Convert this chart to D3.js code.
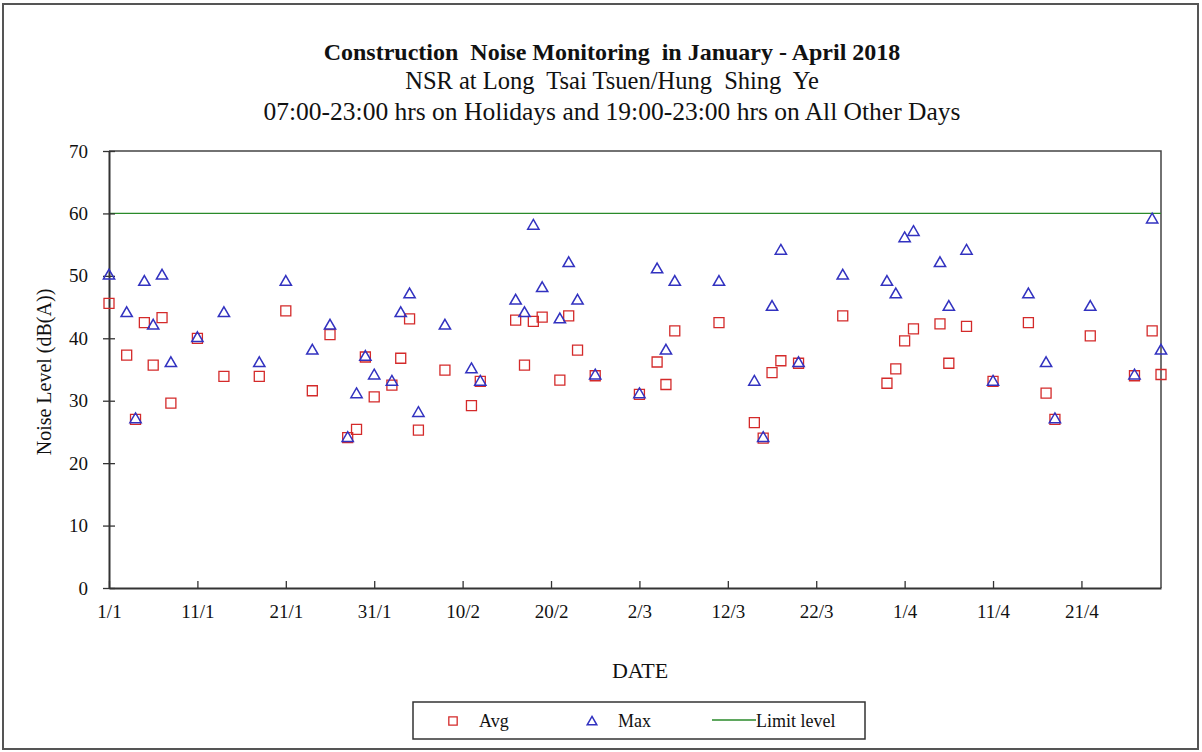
<!DOCTYPE html>
<html>
<head>
<meta charset="utf-8">
<script src="https://cdn.jsdelivr.net/npm/d3@7"></script>
<style>
  body { margin: 0; background: #fff; }
  text { font-family: "Liberation Serif", "Times New Roman", serif; fill: #111; }
</style>
</head>
<body>
<div id="chart"></div>
<script>
// Monitoring dates (d/m, 2018)
const dates = ["1/1","3/1","4/1","5/1","6/1","7/1","8/1","11/1","14/1","18/1","21/1","24/1","26/1","28/1","29/1","30/1","31/1",
  "2/2","3/2","4/2","5/2","8/2","11/2","12/2","16/2","17/2","18/2","19/2","21/2","22/2","23/2","25/2",
  "2/3","4/3","5/3","6/3","11/3","15/3","16/3","17/3","18/3","20/3","25/3","30/3","31/3",
  "1/4","2/4","5/4","6/4","8/4","11/4","15/4","17/4","18/4","22/4","27/4","29/4","30/4"];

const avgValues = [45.6,37.3,27.0,42.5,35.7,43.3,29.6,40.0,33.9,33.9,44.4,31.6,40.6,24.1,25.4,37.0,30.6,
  32.5,36.8,43.1,25.3,34.9,29.2,33.1,42.9,35.7,42.7,43.4,33.3,43.6,38.1,34.0,
  31.0,36.2,32.6,41.2,42.5,26.5,24.0,34.5,36.4,36.0,43.6,32.8,35.1,
  39.6,41.5,42.3,36.0,41.9,33.1,42.5,31.2,27.0,40.4,34.0,41.2,34.2];

const maxValues = [50,44,27,49,42,50,36,40,44,36,49,38,42,24,31,37,34,
  33,44,47,28,42,35,33,46,44,58,48,43,52,46,34,
  31,51,38,49,49,33,24,45,54,36,50,49,47,
  56,57,52,45,54,33,47,36,27,45,34,59,38];

const limitLevel = 60;
const yTicks = [0, 10, 20, 30, 40, 50, 60, 70];

const parseDate = d3.timeParse("%d/%m/%Y");
const data = dates.map((d, i) => ({ date: parseDate(d + "/2018"), avg: avgValues[i], max: maxValues[i] }));

const width = 1202, height = 752;
const margin = { top: 151, right: 41, bottom: 164, left: 109 };
const innerW = width - margin.left - margin.right;
const innerH = height - margin.top - margin.bottom;

const svg = d3.select("#chart").append("svg")
  .attr("width", width)
  .attr("height", height);

// outer frame
svg.append("rect")
  .attr("x", 3).attr("y", 4)
  .attr("width", 1195).attr("height", 745)
  .attr("fill", "none")
  .attr("stroke", "#555")
  .attr("stroke-width", 2);

const g = svg.append("g")
  .attr("transform", `translate(${margin.left},${margin.top})`);

const start = parseDate("1/1/2018");
const x = d3.scaleTime()
  .domain([start, parseDate("30/4/2018")])
  .range([0, innerW]);

const y = d3.scaleLinear()
  .domain([0, 70])
  .range([innerH, 0]);

// plot border (top and right)
g.append("path")
  .attr("d", `M0,0H${innerW}V${innerH}`)
  .attr("fill", "none")
  .attr("stroke", "#444")
  .attr("stroke-width", 1.5);

// limit line
g.append("line")
  .attr("x1", 0).attr("x2", innerW)
  .attr("y1", y(limitLevel)).attr("y2", y(limitLevel))
  .attr("stroke", "#2a8a2a")
  .attr("stroke-width", 1.3);

// x axis, ticks every 10 days pointing inward
const xTicks = d3.range(0, 12).map(i => d3.timeDay.offset(start, i * 10));
const xAxis = g.append("g")
  .attr("transform", `translate(0,${innerH})`)
  .call(d3.axisBottom(x).tickValues(xTicks).tickFormat(d3.timeFormat("%-d/%-m")).tickSize(-7).tickPadding(17).tickSizeOuter(0));
xAxis.select(".domain").attr("stroke", "#333").attr("stroke-width", 2);
xAxis.selectAll(".tick line").attr("stroke", "#333").attr("stroke-width", 1.3);
xAxis.selectAll("text").style("font-size", "19px").attr("fill", "#111");

// y axis, cross ticks
const yAxis = g.append("g")
  .call(d3.axisLeft(y).tickValues(yTicks).tickSize(6).tickPadding(6).tickSizeOuter(0));
yAxis.select(".domain").attr("stroke", "#333").attr("stroke-width", 2);
yAxis.selectAll(".tick line").attr("x2", 6).attr("x1", -6).attr("stroke", "#333").attr("stroke-width", 1.3);
yAxis.selectAll("text").style("font-size", "19px").attr("fill", "#111").attr("x", -21);

const square = d3.symbol().type(d3.symbolSquare).size(100);
const triangle = d3.symbol().type(d3.symbolTriangle).size(55);

// Avg
g.selectAll(".avg")
  .data(data)
  .join("path")
  .attr("class", "avg")
  .attr("d", square)
  .attr("transform", d => `translate(${x(d.date)},${y(d.avg)})`)
  .attr("fill", "none")
  .attr("stroke", "#d42a2a")
  .attr("stroke-width", 1.3);

// Max
g.selectAll(".max")
  .data(data)
  .join("path")
  .attr("class", "max")
  .attr("d", triangle)
  .attr("transform", d => `translate(${x(d.date)},${y(d.max)})`)
  .attr("fill", "none")
  .attr("stroke", "#3232c0")
  .attr("stroke-width", 1.5);

// Titles
const titles = [
  { text: "Construction  Noise Monitoring  in January - April 2018", y: 60, size: 24, bold: true },
  { text: "NSR at Long  Tsai Tsuen/Hung  Shing  Ye", y: 89, size: 24.5, bold: false },
  { text: "07:00-23:00 hrs on Holidays and 19:00-23:00 hrs on All Other Days", y: 120, size: 25.5, bold: false }
];
svg.selectAll(".title")
  .data(titles)
  .join("text")
  .attr("class", "title")
  .attr("x", 612)
  .attr("y", d => d.y)
  .attr("text-anchor", "middle")
  .style("white-space", "pre")
  .style("font-size", d => d.size + "px")
  .style("font-weight", d => d.bold ? "bold" : "normal")
  .text(d => d.text);

// axis labels
svg.append("text")
  .attr("x", 640)
  .attr("y", 678)
  .attr("text-anchor", "middle")
  .style("font-size", "22px")
  .text("DATE");

svg.append("text")
  .attr("transform", "rotate(-90)")
  .attr("x", -372)
  .attr("y", 51)
  .attr("text-anchor", "middle")
  .style("font-size", "20px")
  .text("Noise Level (dB(A))");

// Legend
const legend = svg.append("g");
legend.append("rect")
  .attr("x", 413).attr("y", 702)
  .attr("width", 452).attr("height", 37)
  .attr("fill", "#fff")
  .attr("stroke", "#333")
  .attr("stroke-width", 1.5);

legend.append("path")
  .attr("d", d3.symbol().type(d3.symbolSquare).size(70))
  .attr("transform", "translate(453,721)")
  .attr("fill", "none").attr("stroke", "#d42a2a").attr("stroke-width", 1.3);
legend.append("text").attr("x", 479).attr("y", 727).style("font-size", "18px").text("Avg");

legend.append("path")
  .attr("d", d3.symbol().type(d3.symbolTriangle).size(40))
  .attr("transform", "translate(592,722)")
  .attr("fill", "none").attr("stroke", "#3232c0").attr("stroke-width", 1.5);
legend.append("text").attr("x", 618).attr("y", 727).style("font-size", "18px").text("Max");

legend.append("line")
  .attr("x1", 712).attr("x2", 756).attr("y1", 720).attr("y2", 720)
  .attr("stroke", "#2a8a2a").attr("stroke-width", 1.3);
legend.append("text").attr("x", 756).attr("y", 727).style("font-size", "18px").text("Limit level");
</script>
</body>
</html>
